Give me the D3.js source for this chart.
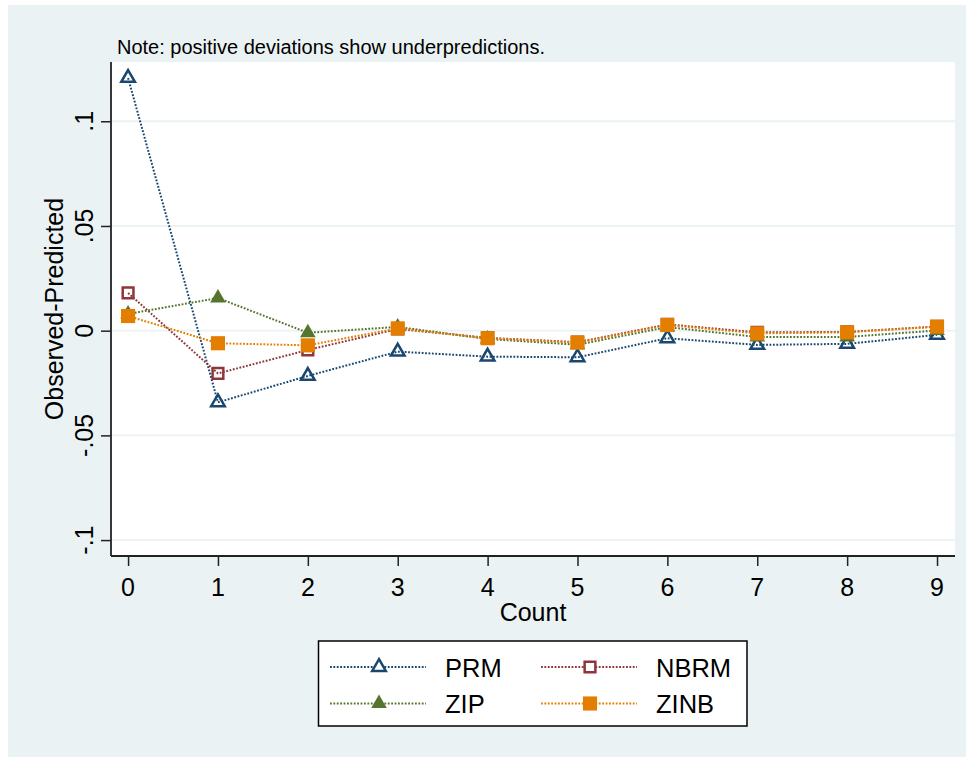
<!DOCTYPE html>
<html>
<head>
<meta charset="utf-8">
<script src="https://cdn.jsdelivr.net/npm/d3@7"></script>
<style>
  body { margin: 0; background: #fff; }
  text { font-family: "Liberation Sans", Arial, sans-serif; fill: #000; }
</style>
</head>
<body>
<svg id="chart" width="971" height="759"></svg>
<script>
// counts on the x axis
var counts = [0, 1, 2, 3, 4, 5, 6, 7, 8, 9];
// observed - predicted
var prm  = [0.1207, -0.0342, -0.0216, -0.0100, -0.0124, -0.0127, -0.0036, -0.0068, -0.0063, -0.0020];
var nbrm = [0.0180, -0.0204, -0.0092, 0.0008, -0.0034, -0.0055, 0.0030, -0.0008, -0.0006, 0.0020];
var zip  = [0.0080, 0.0156, -0.0010, 0.0018, -0.0040, -0.0067, 0.0017, -0.0030, -0.0030, 0.0001];
var zinb = [0.0070, -0.0060, -0.0070, 0.0011, -0.0036, -0.0057, 0.0027, -0.0013, -0.0008, 0.0019];

var yTicks = [0.1, 0.05, 0, -0.05, -0.1];
var yTickLabels = [".1", ".05", "0", "-.05", "-.1"];
var seriesNames = ["PRM", "NBRM", "ZIP", "ZINB"];

var series = [
  {name: "PRM",  values: prm,  colour: "#1a476f", symbol: d3.symbolTriangle, size: 80,  filled: false},
  {name: "NBRM", values: nbrm, colour: "#90353b", symbol: d3.symbolSquare,   size: 115, filled: false},
  {name: "ZIP",  values: zip,  colour: "#55752f", symbol: d3.symbolTriangle, size: 105, filled: true},
  {name: "ZINB", values: zinb, colour: "#e37e00", symbol: d3.symbolSquare,   size: 200, filled: true}
];

var svg = d3.select("#chart");

// outer (graph region) background
svg.append("rect").attr("x", 8).attr("y", 5).attr("width", 958).attr("height", 752).attr("fill", "#eaf2f3");

var plotLeft = 111, plotRight = 955, plotTop = 62, plotBottom = 556;
svg.append("rect").attr("x", plotLeft).attr("y", plotTop)
  .attr("width", plotRight - plotLeft).attr("height", plotBottom - plotTop).attr("fill", "#fff");

var x = d3.scaleLinear().domain([-0.19, 9.2]).range([plotLeft, plotRight]);
var y = d3.scaleLinear().domain([-0.1076, 0.1283]).range([plotBottom, plotTop]);

// gridlines
svg.append("g").selectAll("line").data(yTicks).enter().append("line")
  .attr("x1", plotLeft).attr("x2", plotRight)
  .attr("y1", d => y(d)).attr("y2", d => y(d))
  .attr("stroke", "#eaf2f3").attr("stroke-width", 1.8);

// y axis
var yAxis = svg.append("g").attr("transform", "translate(" + plotLeft + ",0)")
  .call(d3.axisLeft(y).tickValues(yTicks).tickSize(10).tickFormat(""));
yAxis.select(".domain").attr("d", "M0," + plotTop + "V" + plotBottom).attr("stroke", "#222").attr("stroke-width", 1.8);
yAxis.selectAll(".tick line").attr("stroke", "#222").attr("stroke-width", 1.5);

svg.append("g").selectAll("text").data(yTicks).enter().append("text")
  .attr("transform", d => "translate(93," + y(d) + ") rotate(-90)")
  .attr("text-anchor", "middle").style("font-size", "25px")
  .text((d, i) => yTickLabels[i]);

// x axis
var xAxis = svg.append("g").attr("transform", "translate(0," + plotBottom + ")")
  .call(d3.axisBottom(x).tickValues(counts).tickSize(10).tickFormat(""));
xAxis.select(".domain").attr("d", "M" + plotLeft + ",0H" + plotRight).attr("stroke", "#222").attr("stroke-width", 1.8);
xAxis.selectAll(".tick line").attr("stroke", "#222").attr("stroke-width", 1.5);

svg.append("g").selectAll("text").data(counts).enter().append("text")
  .attr("x", d => x(d)).attr("y", 596).attr("text-anchor", "middle").style("font-size", "25px")
  .text(d => d);

// axis titles
svg.append("text").attr("x", (plotLeft + plotRight) / 2).attr("y", 621)
  .attr("text-anchor", "middle").style("font-size", "25px").text("Count");
svg.append("text").attr("transform", "translate(63," + ((plotTop + plotBottom) / 2) + ") rotate(-90)")
  .attr("text-anchor", "middle").style("font-size", "25px").text("Observed-Predicted");

// note
svg.append("text").attr("x", 117).attr("y", 54).style("font-size", "20px")
  .text("Note: positive deviations show underpredictions.");

// series
var line = d3.line().x((d, i) => x(counts[i])).y(d => y(d));
var sym = d3.symbol();

series.forEach(function(s) {
  var g = svg.append("g");
  g.append("path").attr("d", line(s.values)).attr("fill", "none")
    .attr("stroke", s.colour).attr("stroke-width", 2).attr("stroke-dasharray", "1.8,1.6");
  g.selectAll("path.m").data(s.values).enter().append("path").attr("class", "m")
    .attr("transform", (d, i) => "translate(" + x(counts[i]) + "," + y(d) + ")")
    .attr("d", sym.type(s.symbol).size(s.size)())
    .attr("fill", s.filled ? s.colour : "none")
    .attr("stroke", s.colour).attr("stroke-width", s.filled ? 0 : 2.5);
});

// legend
var legend = svg.append("g");
legend.append("rect").attr("x", 318.5).attr("y", 641).attr("width", 428.5).attr("height", 85)
  .attr("fill", "#fff").attr("stroke", "#000").attr("stroke-width", 1.5);

var legCols = [330, 541], legRows = [667, 703.5];
series.forEach(function(s, i) {
  var lx = legCols[i % 2], ly = legRows[Math.floor(i / 2)];
  legend.append("line").attr("x1", lx).attr("x2", lx + 96).attr("y1", ly).attr("y2", ly)
    .attr("stroke", s.colour).attr("stroke-width", 2).attr("stroke-dasharray", "1.8,1.6");
  legend.append("path").attr("transform", "translate(" + (lx + 49) + "," + ly + ")")
    .attr("d", sym.type(s.symbol).size(s.size)())
    .attr("fill", s.filled ? s.colour : "#fff")
    .attr("stroke", s.colour).attr("stroke-width", s.filled ? 0 : 2.5);
  legend.append("text").attr("x", lx + 115).attr("y", ly + 9.5).style("font-size", "25.5px")
    .text(seriesNames[i]);
});
</script>
</body>
</html>
